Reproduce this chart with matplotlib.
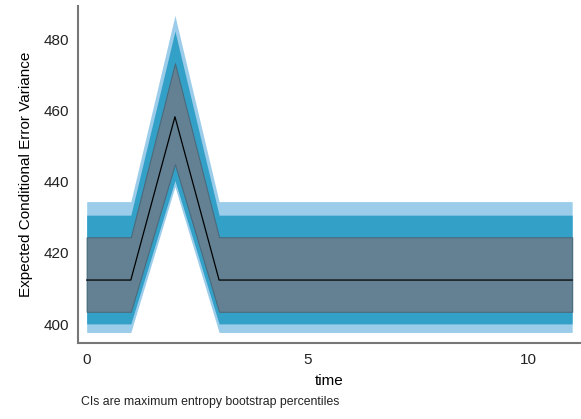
import matplotlib.pyplot as plt
import numpy as np

plt.rcParams['font.family'] = ['Liberation Sans', 'DejaVu Sans']

# time steps and estimated conditional error variance with bootstrap CIs
time = [0, 1, 2, 3, 4, 5, 6, 7, 8, 9, 10, 11]
mean = [412.4, 412.4, 458.2, 412.4, 412.4, 412.4, 412.4, 412.4, 412.4, 412.4, 412.4, 412.4]
ci50_lo = [403.5, 403.5, 444.9, 403.5, 403.5, 403.5, 403.5, 403.5, 403.5, 403.5, 403.5, 403.5]
ci50_hi = [424.4, 424.4, 473.2, 424.4, 424.4, 424.4, 424.4, 424.4, 424.4, 424.4, 424.4, 424.4]
ci90_lo = [400.1, 400.1, 440.3, 400.1, 400.1, 400.1, 400.1, 400.1, 400.1, 400.1, 400.1, 400.1]
ci90_hi = [430.6, 430.6, 482.2, 430.6, 430.6, 430.6, 430.6, 430.6, 430.6, 430.6, 430.6, 430.6]
ci95_lo = [397.7, 397.7, 438.6, 397.7, 397.7, 397.7, 397.7, 397.7, 397.7, 397.7, 397.7, 397.7]
ci95_hi = [434.4, 434.4, 486.6, 434.4, 434.4, 434.4, 434.4, 434.4, 434.4, 434.4, 434.4, 434.4]

fig = plt.figure(figsize=(5.81, 4.19), dpi=100)
ax = fig.add_axes([0.134, 0.181, 0.866, 0.805])

ax.fill_between(time, ci95_lo, ci95_hi, color='#9bcdeb', lw=0)
ax.fill_between(time, ci90_lo, ci90_hi, color='#33a0c8', lw=0)
ax.fill_between(time, ci50_lo, ci50_hi, color='#638193', edgecolor='#4b6a7c', lw=0.8)
ax.plot(time, mean, color='black', lw=0.9)

ax.set_xlim(-0.2, 11.2)
ax.set_ylim(394.7, 489.3)
ax.set_xticks([0, 5, 10])
ax.set_yticks([400, 420, 440, 460, 480])
ax.tick_params(length=0, labelsize=11, colors='#222222')
ax.tick_params(axis='x', pad=7)
ax.tick_params(axis='y', pad=6)

for s in ['top', 'right']:
    ax.spines[s].set_visible(False)
for s in ['left', 'bottom']:
    ax.spines[s].set_color('#777777')
    ax.spines[s].set_linewidth(1.5)

ax.set_xlabel('time', fontsize=11, labelpad=5)
ax.set_ylabel('Expected Conditional Error Variance', fontsize=11, labelpad=8)

fig.text(0.139, 0.033, 'CIs are maximum entropy bootstrap percentiles', fontsize=8.8, color='#222222')

fig.savefig('out.png', dpi=100)
